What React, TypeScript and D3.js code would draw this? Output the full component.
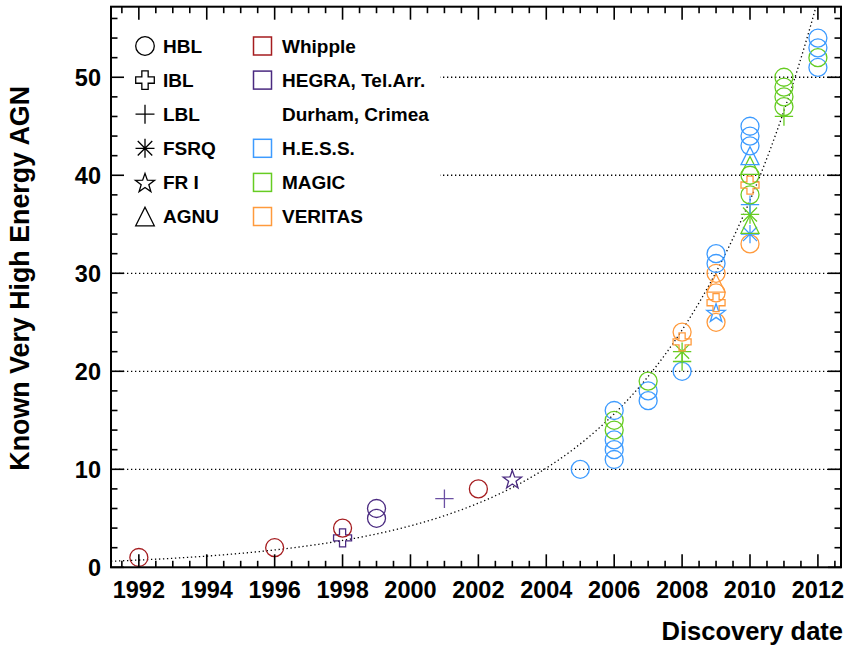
import React from 'react';
import * as d3 from 'd3';

// ---------------- data ----------------
const discoveryYears = [
  1992, 1996, 1998, 1998, 1999, 1999, 2001, 2002, 2003, 2005,
  2006, 2006, 2006, 2006, 2006, 2006,
  2007, 2007, 2007,
  2008, 2008, 2008, 2008, 2008,
  2009, 2009, 2009, 2009, 2009, 2009, 2009, 2009,
  2010, 2010, 2010, 2010, 2010, 2010, 2010, 2010, 2010, 2010, 2010, 2010, 2010,
  2011, 2011, 2011, 2011, 2011,
  2012, 2012, 2012, 2012,
];
const knownCounts = [
  1, 2, 3, 4, 5, 6, 7, 8, 9, 10,
  11, 12, 13, 14, 15, 16,
  17, 18, 19,
  20, 21, 22, 23, 24,
  25, 26, 27, 28, 29, 30, 31, 32,
  33, 34, 35, 36, 37, 38, 39, 40, 41, 42, 43, 44, 45,
  46, 47, 48, 49, 50,
  51, 52, 53, 54,
];
const agnClasses = [
  'HBL', 'HBL', 'IBL', 'HBL', 'HBL', 'HBL', 'LBL', 'HBL', 'FR I', 'HBL',
  'HBL', 'HBL', 'HBL', 'HBL', 'HBL', 'HBL',
  'HBL', 'HBL', 'HBL',
  'HBL', 'LBL', 'FSRQ', 'IBL', 'HBL',
  'HBL', 'FR I', 'IBL', 'HBL', 'AGNU', 'HBL', 'HBL', 'HBL',
  'HBL', 'FSRQ', 'AGNU', 'FSRQ', 'LBL', 'HBL', 'IBL', 'HBL', 'AGNU', 'AGNU', 'HBL', 'HBL', 'HBL',
  'LBL', 'HBL', 'HBL', 'HBL', 'HBL',
  'HBL', 'HBL', 'HBL', 'HBL',
];
const experiments = [
  'Whipple', 'Whipple', 'HEGRA, Tel.Arr.', 'Whipple', 'HEGRA, Tel.Arr.', 'HEGRA, Tel.Arr.', 'Durham, Crimea', 'Whipple', 'HEGRA, Tel.Arr.', 'H.E.S.S.',
  'H.E.S.S.', 'H.E.S.S.', 'H.E.S.S.', 'MAGIC', 'MAGIC', 'H.E.S.S.',
  'H.E.S.S.', 'H.E.S.S.', 'MAGIC',
  'H.E.S.S.', 'MAGIC', 'MAGIC', 'VERITAS', 'VERITAS',
  'VERITAS', 'H.E.S.S.', 'VERITAS', 'VERITAS', 'VERITAS', 'VERITAS', 'H.E.S.S.', 'H.E.S.S.',
  'VERITAS', 'H.E.S.S.', 'MAGIC', 'MAGIC', 'H.E.S.S.', 'MAGIC', 'VERITAS', 'MAGIC', 'MAGIC', 'H.E.S.S.', 'H.E.S.S.', 'H.E.S.S.', 'H.E.S.S.',
  'MAGIC', 'MAGIC', 'MAGIC', 'MAGIC', 'MAGIC',
  'H.E.S.S.', 'MAGIC', 'H.E.S.S.', 'H.E.S.S.',
];

const classNames = ['HBL', 'IBL', 'LBL', 'FSRQ', 'FR I', 'AGNU'];
const experimentNames = ['Whipple', 'HEGRA, Tel.Arr.', 'Durham, Crimea', 'H.E.S.S.', 'MAGIC', 'VERITAS'];
const experimentColors = ['#a51c1f', '#4a2a80', '#6b50a3', '#3d9bff', '#66cc22', '#ff9a3c'];
const experimentHasBox = [true, true, false, true, true, true];

const xTickLabels = [1992, 1994, 1996, 1998, 2000, 2002, 2004, 2006, 2008, 2010, 2012];
const yTickLabels = [0, 10, 20, 30, 40, 50];
const gridValues = [10, 20, 30, 40, 50];

// exponential fit drawn as dotted curve
const fitAmplitude = 0.74;
const fitRate = 0.218;
const fitOrigin = 1992;

// ---------------- layout ----------------
const W = 851;
const H = 645;
const left = 111;
const right = 841;
const top = 6.7;
const bottom = 567.3;
const FONT = '"Liberation Sans", Arial, Helvetica, sans-serif';

const x = d3.scaleLinear().domain([1991.18, 2012.68]).range([left, right]);
const y = d3.scaleLinear().domain([0, 57.2]).range([bottom, top]);

function markerPath(cls: string, s: number): string {
  if (cls === 'HBL') {
    const r = s;
    return `M${-r},0a${r},${r} 0 1,0 ${2 * r},0a${r},${r} 0 1,0 ${-2 * r},0Z`;
  }
  if (cls === 'IBL') {
    const a = s * 0.34;
    const e = s;
    const pts = [
      [-a, -e], [a, -e], [a, -a], [e, -a], [e, a], [a, a],
      [a, e], [-a, e], [-a, a], [-e, a], [-e, -a], [-a, -a],
    ];
    return 'M' + pts.map((p) => p.join(',')).join('L') + 'Z';
  }
  if (cls === 'LBL') {
    const e = s * 1.02;
    return `M${-e},0H${e}M0,${-e}V${e}`;
  }
  if (cls === 'FSRQ') {
    const e = s * 1.02;
    const d = s * 0.78;
    return `M${-e},0H${e}M0,${-e}V${e}M${-d},${-d}L${d},${d}M${-d},${d}L${d},${-d}`;
  }
  if (cls === 'FR I') {
    const R = s * 1.08;
    const r = R * 0.4;
    const pts: string[] = [];
    for (let i = 0; i < 10; i++) {
      const ang = -Math.PI / 2 + (i * Math.PI) / 5;
      const rr = i % 2 === 0 ? R : r;
      pts.push(`${(rr * Math.cos(ang)).toFixed(2)},${(rr * Math.sin(ang) + R * 0.1).toFixed(2)}`);
    }
    return 'M' + pts.join('L') + 'Z';
  }
  // AGNU triangle
  return `M0,${-s}L${s},${s}L${-s},${s}Z`;
}

function colorOf(exp: string): string {
  return experimentColors[experimentNames.indexOf(exp)];
}

export default function App() {
  const majorX = d3.range(1992, 2013, 2);
  const minorX = d3.range(1991.5, 2012.6, 0.5).filter((v) => Math.abs(v - Math.round(v / 2) * 2) > 1e-6);
  const majorY = d3.range(0, 56, 10);
  const minorY = d3.range(2, 57, 2).filter((v) => v % 10 !== 0);

  const fitPts: [number, number][] = [];
  for (let t = 1991.18; t <= 2012.3; t += 0.02) {
    fitPts.push([t, fitAmplitude * Math.exp(fitRate * (t - fitOrigin))]);
  }
  const fitLine = d3
    .line<[number, number]>()
    .x((d) => x(d[0]))
    .y((d) => y(d[1]))(fitPts) as string;

  const legendY0 = 46;
  const legendDy = 34.1;

  return (
    <svg width={W} height={H} style={{ position: 'absolute', left: 0, top: 0, background: '#fff' }}
      fontFamily={FONT} fontWeight="bold">
      <defs>
        <clipPath id="plotClip">
          <rect x={left} y={top} width={right - left} height={bottom - top} />
        </clipPath>
      </defs>
      <rect x={0} y={0} width={W} height={H} fill="#fff" />

      {/* grid */}
      {gridValues.map((v) => (
        <line key={'g' + v} x1={left} x2={right} y1={y(v)} y2={y(v)}
          stroke="#000" strokeWidth={1.3} strokeDasharray="1.3 2.7" />
      ))}

      {/* fit curve */}
      <path d={fitLine} fill="none" stroke="#000" strokeWidth={1.3} strokeDasharray="1.3 2.7"
        clipPath="url(#plotClip)" />

      {/* legend background */}
      <rect x={left + 1} y={14} width={440 - left - 1} height={226} fill="#fff" />

      {/* legend: classes */}
      {classNames.map((c, i) => {
        const cy = legendY0 + i * legendDy;
        return (
          <g key={'lc' + c}>
            <path d={markerPath(c, 9.3)} transform={`translate(145,${cy})`} fill="none"
              stroke="#000" strokeWidth={1.3} />
            <text x={163} y={cy + 6.8} fontSize={19} fill="#000">{c}</text>
          </g>
        );
      })}
      {/* legend: experiments */}
      {experimentNames.map((e, i) => {
        const cy = legendY0 + i * legendDy;
        return (
          <g key={'le' + e}>
            {experimentHasBox[i] && (
              <rect x={253.5} y={cy - 9} width={18} height={18} fill="none"
                stroke={experimentColors[i]} strokeWidth={1.5} />
            )}
            <text x={282} y={cy + 6.8} fontSize={19} fill="#000">{e}</text>
          </g>
        );
      })}

      {/* data markers */}
      <g clipPath="url(#plotClip)">
        {discoveryYears.map((yr, i) => (
          <path key={'m' + i} d={markerPath(agnClasses[i], 9)}
            transform={`translate(${x(yr)},${y(knownCounts[i])})`}
            fill="none" stroke={colorOf(experiments[i])} strokeWidth={1.3} />
        ))}
      </g>

      {/* frame */}
      <rect x={left} y={top} width={right - left} height={bottom - top} fill="none"
        stroke="#000" strokeWidth={2} />

      {/* ticks */}
      <g stroke="#000" strokeWidth={1.6}>
        {majorX.map((v) => (
          <g key={'mx' + v}>
            <line x1={x(v)} x2={x(v)} y1={bottom} y2={bottom - 13} />
            <line x1={x(v)} x2={x(v)} y1={top} y2={top + 13} />
          </g>
        ))}
        {minorX.map((v) => (
          <g key={'nx' + v}>
            <line x1={x(v)} x2={x(v)} y1={bottom} y2={bottom - 6.5} />
            <line x1={x(v)} x2={x(v)} y1={top} y2={top + 6.5} />
          </g>
        ))}
        {majorY.map((v) => (
          <g key={'my' + v}>
            <line x1={left} x2={left + 13} y1={y(v)} y2={y(v)} />
            <line x1={right} x2={right - 13} y1={y(v)} y2={y(v)} />
          </g>
        ))}
        {minorY.map((v) => (
          <g key={'ny' + v}>
            <line x1={left} x2={left + 6.5} y1={y(v)} y2={y(v)} />
            <line x1={right} x2={right - 6.5} y1={y(v)} y2={y(v)} />
          </g>
        ))}
      </g>

      {/* tick labels */}
      {xTickLabels.map((v) => (
        <text key={'xl' + v} x={x(v)} y={597.5} fontSize={23.5} textAnchor="middle" fill="#000">{v}</text>
      ))}
      {yTickLabels.map((v) => (
        <text key={'yl' + v} x={101} y={y(v) + 8.5} fontSize={23.5} textAnchor="end" fill="#000">{v}</text>
      ))}

      {/* axis titles */}
      <text x={843} y={639.5} fontSize={25.5} textAnchor="end" fill="#000">Discovery date</text>
      <text transform="translate(28.5,86) rotate(-90)" fontSize={26.8} textAnchor="end" fill="#000">
        Known Very High Energy AGN
      </text>
    </svg>
  );
}
